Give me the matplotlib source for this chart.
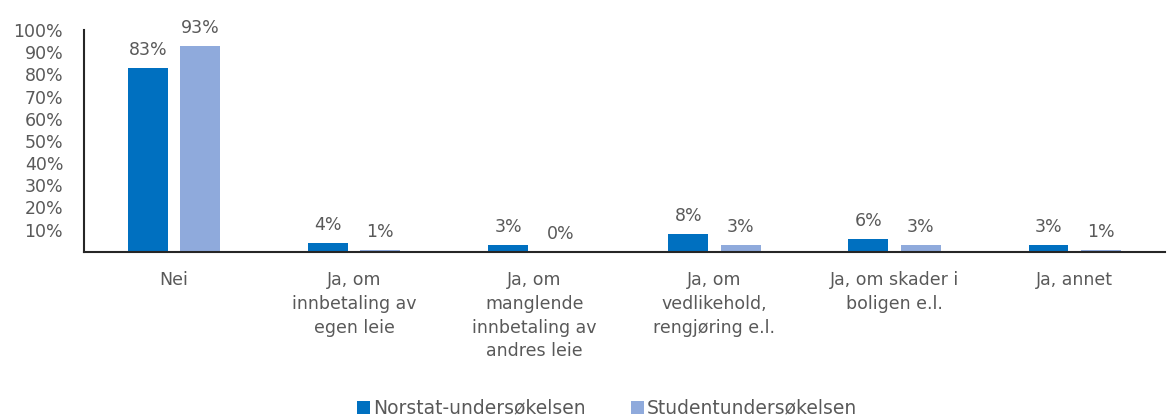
import numpy as np
import matplotlib.pyplot as plt

plt.rcParams['font.family'] = ['DejaVu Sans']

categories = ["Nei", "Ja, om\ninnbetaling av\negen leie", "Ja, om\nmanglende\ninnbetaling av\nandres leie",
              "Ja, om\nvedlikehold,\nrengjøring e.l.", "Ja, om skader i\nboligen e.l.", "Ja, annet"]
norstat = [83, 4, 3, 8, 6, 3]
student = [93, 1, 0, 3, 3, 1]
series_names = ["Norstat-undersøkelsen", "Studentundersøkelsen"]
colors = ["#0070C0", "#8FAADC"]
grey = "#595959"

fig = plt.figure(figsize=(11.67, 4.17), dpi=100)
ax = fig.add_axes([0.072, 0.396, 0.926, 0.532])

x = np.arange(len(categories))
w = 0.222
off = 0.145
b1 = ax.bar(x - off, norstat, w, color=colors[0], label=series_names[0])
b2 = ax.bar(x + off, student, w, color=colors[1], label=series_names[1])

for bars, vals in [(b1, norstat), (b2, student)]:
    for b, v in zip(bars, vals):
        ax.text(b.get_x() + b.get_width() / 2, v + 4, f"{v}%", ha="center", va="bottom",
                fontsize=12.5, color=grey)

ax.set_xlim(-0.5, len(categories) - 0.5)
ax.set_ylim(0, 100)
ax.set_yticks(range(10, 101, 10))
ax.set_yticklabels([f"{t}%" for t in range(10, 101, 10)], fontsize=12.5, color=grey)
ax.set_xticks(x)
ax.set_xticklabels(categories, fontsize=12.5, color=grey, linespacing=1.4)
ax.tick_params(axis="both", length=0)
ax.tick_params(axis="y", pad=15)
ax.tick_params(axis="x", pad=14)
for s in ["top", "right"]:
    ax.spines[s].set_visible(False)
for s in ["left", "bottom"]:
    ax.spines[s].set_color("#262626")
    ax.spines[s].set_linewidth(1.5)

fig.legend(handles=[b1, b2], labels=series_names, loc="lower center", ncol=2, frameon=False,
           prop={"size": 13.5}, labelcolor=grey, bbox_to_anchor=(0.52, -0.042),
           handlelength=0.7, handleheight=0.7, handletextpad=0.15, columnspacing=2.4)

fig.savefig("out.png", dpi=100)
